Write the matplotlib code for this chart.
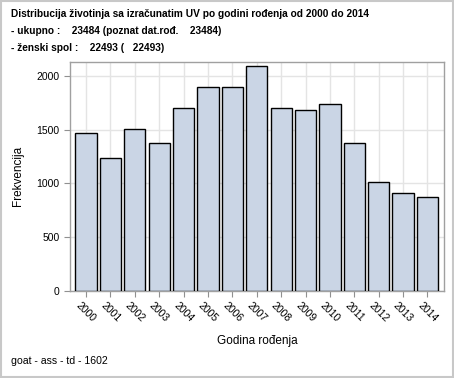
import matplotlib.pyplot as plt
import numpy as np
from matplotlib.patches import Rectangle

plt.rcParams["font.family"] = ["Liberation Sans", "DejaVu Sans"]

years = [str(y) for y in range(2000, 2015)]
counts = [1470, 1237, 1507, 1377, 1702, 1893, 1902, 2090, 1699, 1680, 1736, 1373, 1011, 911, 871]
yticks = [0, 500, 1000, 1500, 2000]

title_lines = [
    "Distribucija životinja sa izračunatim UV po godini rođenja od 2000 do 2014",
    "- ukupno :    23484 (poznat dat.rođ.    23484)",
    "- ženski spol :    22493 (   22493)",
]
footer = "goat - ass - td - 1602"

fig = plt.figure(figsize=(4.54, 3.78), dpi=100)
W, H = 454, 378
ax = fig.add_axes([70 / W, 1 - 291 / H, (444 - 70) / W, (291 - 62) / H])

x = np.arange(len(years))
ax.bar(x, counts, width=0.87, color="#CAD5E5", edgecolor="black", linewidth=1.0, zorder=3)

ax.set_xlim(-0.66, 14.68)
ax.set_ylim(0, 2130)
ax.set_yticks(yticks)
ax.set_xticks(x)
ax.set_xticklabels(years, rotation=-45, ha="center", va="top")
ax.tick_params(axis="both", labelsize=7.5, color="#909090", length=4, width=0.8)
ax.tick_params(axis="x", pad=3)
ax.grid(True, color="#E4E4E4", linewidth=1.0, zorder=0)
ax.set_axisbelow(True)
for s in ax.spines.values():
    s.set_color("#A0A0A0")
    s.set_linewidth(1.0)

fig.text(18 / W, 1 - 176 / H, "Frekvencija", fontsize=8.5, rotation=90,
         ha="center", va="center")
fig.text(257 / W, 1 - 341 / H, "Godina rođenja", fontsize=8.5, ha="center", va="center")

for i, line in enumerate(title_lines):
    fig.text(11 / W, 1 - (14 + 17 * i) / H, line, fontsize=7.3, fontweight="bold",
             ha="left", va="center")
fig.text(11 / W, 1 - 361 / H, footer, fontsize=7.6, ha="left", va="center")

fig.patches.append(Rectangle((0.002, 0.002), 0.996, 0.996, transform=fig.transFigure,
                             fill=False, edgecolor="#C8C8C8", linewidth=1.5))

fig.savefig("out.png", dpi=100)
